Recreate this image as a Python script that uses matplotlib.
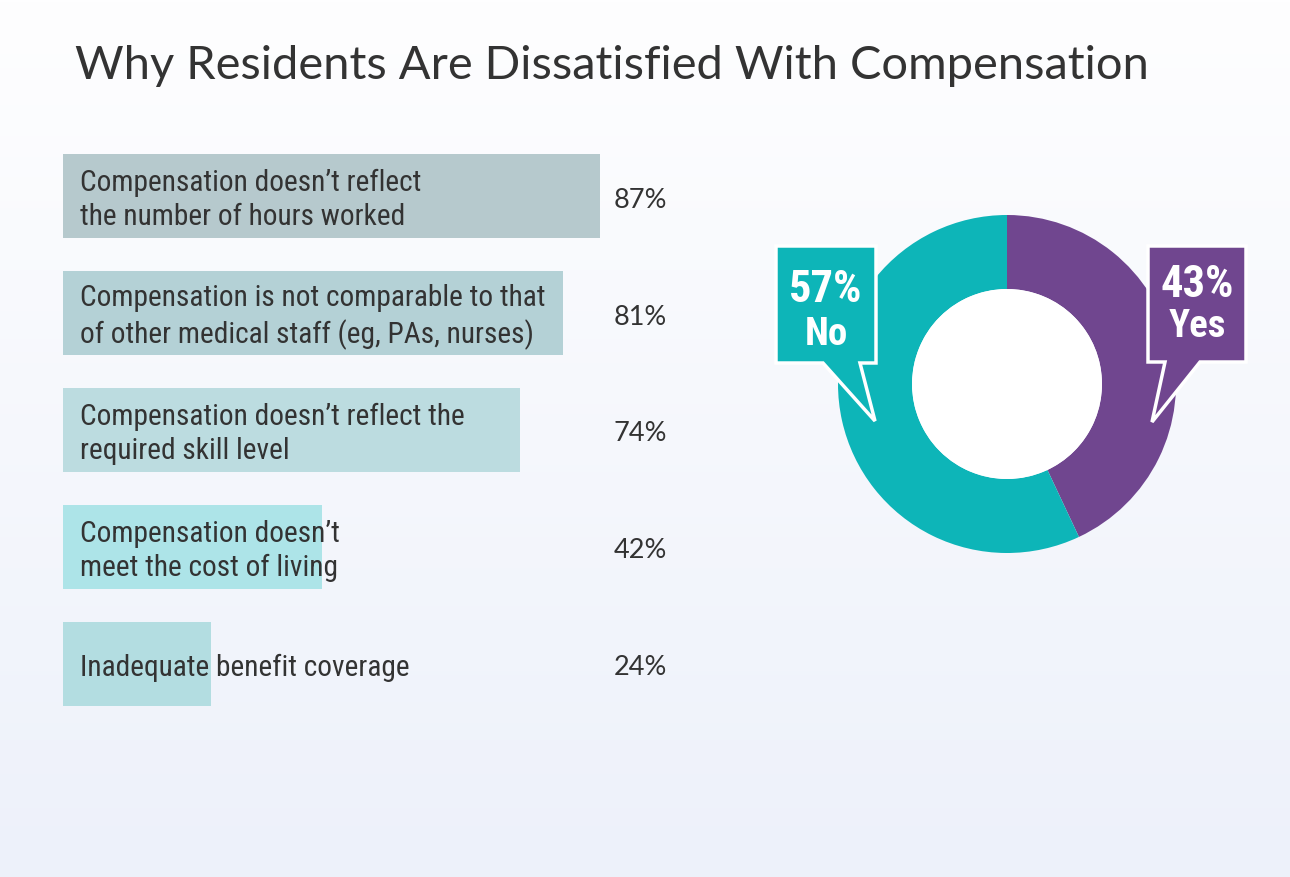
import numpy as np
import matplotlib.pyplot as plt
from matplotlib.patches import Polygon, Circle
from matplotlib.colors import LinearSegmentedColormap

TITLE = "Why Residents Are Dissatisfied With Compensation"

reasons = [
    "Compensation doesn\u2019t reflect\nthe number of hours worked",
    "Compensation is not comparable to that\nof other medical staff (eg, PAs, nurses)",
    "Compensation doesn\u2019t reflect the\nrequired skill level",
    "Compensation doesn\u2019t\nmeet the cost of living",
    "Inadequate benefit coverage",
]
reason_pct = [87, 81, 74, 42, 24]
bar_colors = ["#b6c9cd", "#b4d1d6", "#bcdce0", "#ade4e8", "#b3dde1"]

answers = ["Yes", "No"]
answer_pct = [43, 57]
answer_colors = ["#70468f", "#0db5b8"]

COND = ["Roboto Condensed", "Liberation Sans Narrow", "Roboto", "DejaVu Sans"]
TXT = "#333333"

W, H = 1290, 878
fig = plt.figure(figsize=(W / 100, H / 100), dpi=100)

# background gradient
bg = fig.add_axes([0, 0, 1, 1])
grad = LinearSegmentedColormap.from_list("bg", ["#fefeff", "#edf1fa"])
bg.imshow(np.linspace(0, 1, 256).reshape(-1, 1), aspect="auto", cmap=grad,
          extent=[0, 1, 0, 1])
bg.set_axis_off()

def fig_box(x0, y0, x1, y1):
    # pixel box (top-left origin) -> figure fraction rect
    return [x0 / W, 1 - y1 / H, (x1 - x0) / W, (y1 - y0) / H]

# bars
ax = fig.add_axes(fig_box(63, 155, 680, 707))
ypos = np.arange(len(reasons))
ax.barh(ypos, reason_pct, height=0.718, color=bar_colors)
ax.set_xlim(0, 100)
ax.set_ylim(len(reasons) - 1 + 0.359, -0.359)
ax.set_axis_off()
for i, (lab, v) in enumerate(zip(reasons, reason_pct)):
    ax.annotate(lab, xy=(0, i), xytext=(17, -3), textcoords="offset pixels",
                ha="left", va="center", fontsize=21.2, color=TXT,
                family=COND, linespacing=1.3)
    ax.annotate(f"{v}%", xy=(100, i), xytext=(-13, -3), textcoords="offset pixels",
                ha="right", va="center", fontsize=19.5, color=TXT,
                family=["Lato", "DejaVu Sans"])

# donut
pax = fig.add_axes(fig_box(1007 - 169, 385 - 169, 1007 + 169, 385 + 169))
pax.pie(answer_pct, colors=answer_colors, startangle=90, counterclock=False,
        radius=1, wedgeprops=dict(width=0.438, edgecolor="none"))
pax.add_patch(Circle((0, 0), 0.562, facecolor="white", edgecolor="none"))
pax.set_xlim(-1, 1)
pax.set_ylim(-1, 1)
pax.set_aspect("equal")
pax.set_axis_off()

# callouts in pixel space
ov = fig.add_axes([0, 0, 1, 1])
ov.set_xlim(0, W)
ov.set_ylim(H, 0)
ov.set_axis_off()
ov.patch.set_alpha(0)

no_shape = [(776, 247), (876, 247), (876, 364), (860, 364), (875, 422),
            (823, 364), (776, 364)]
yes_shape = [(1148, 247), (1246, 247), (1246, 363), (1200, 363), (1152, 423),
             (1165, 363), (1148, 363)]
for shape, col in [(yes_shape, answer_colors[0]), (no_shape, answer_colors[1])]:
    ov.add_patch(Polygon(shape, closed=True, facecolor=col, edgecolor="white",
                         linewidth=2.5, joinstyle="miter"))

bold = dict(color="white", fontweight="bold", family=COND, ha="center",
            va="center")
ov.text(826, 290, f"{answer_pct[1]}%", fontsize=32, **bold)
ov.text(826, 335, answers[1], fontsize=28, **bold)
ov.text(1197, 285, f"{answer_pct[0]}%", fontsize=32, **bold)
ov.text(1197, 327, answers[0], fontsize=28, **bold)

fig.text(75 / W, 1 - 66 / H, TITLE, fontsize=33.8, color=TXT, ha="left",
         va="center", family=["Lato", "DejaVu Sans"])

fig.savefig("out.png", dpi=100)
